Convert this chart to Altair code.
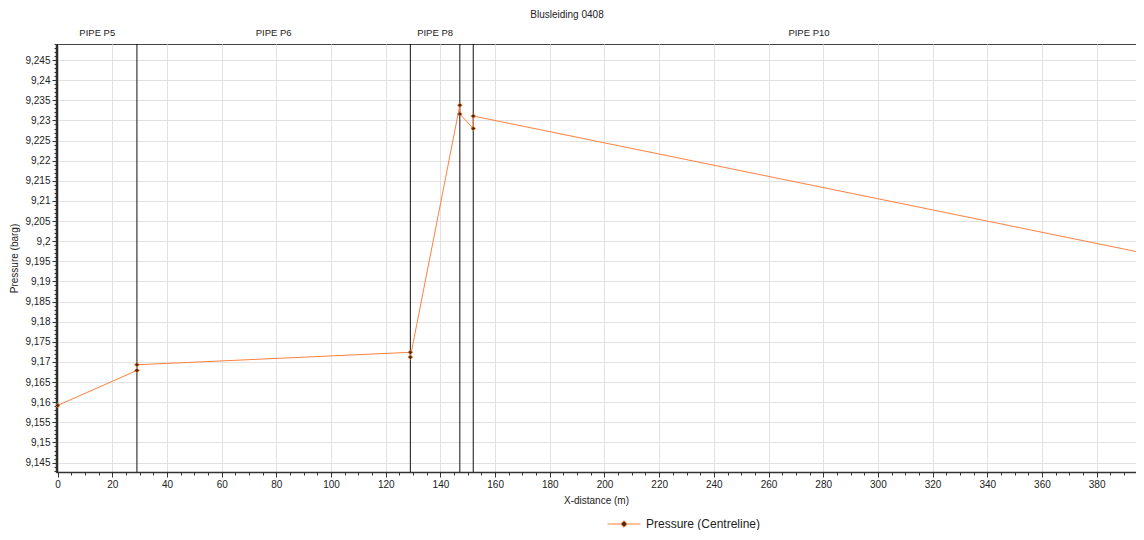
import altair as alt
import pandas as pd

# ---- data ----
distance = [0, 29, 29, 129, 129, 147.1, 147.1, 152.0, 152.0, 397.6]
pressure = [9.1592, 9.1679, 9.1693, 9.1724, 9.1712, 9.2338, 9.2316, 9.2280, 9.2311, 9.1970]

pipe_names = ["PIPE P5", "PIPE P6", "PIPE P8", "PIPE P10"]
pipe_start = [0, 29, 129, 152.0]
pipe_end = [29, 129, 147.1, 397.6]

boundaries = [0, 29, 129, 147.1, 152.0]

x_ticks = [v for v in range(0, 395, 5)]
y_major = [9.145, 9.15, 9.155, 9.16, 9.165, 9.17, 9.175, 9.18, 9.185, 9.19, 9.195,
           9.2, 9.205, 9.21, 9.215, 9.22, 9.225, 9.23, 9.235, 9.24, 9.245]
y_ticks = [round(9.143 + i * 0.001, 3) for i in range(107)]

SERIES = "Pressure (Centreline)"
ORANGE = "#ff8040"
FONT = "Liberation Sans"

series_df = pd.DataFrame({
    "dist": distance,
    "p": pressure,
    "idx": list(range(len(distance))),
    "series": [SERIES] * len(distance),
})
pipes_df = pd.DataFrame({"name": pipe_names, "start": pipe_start, "end": pipe_end})
bounds_df = pd.DataFrame({"b": boundaries})

x_scale = alt.Scale(domain=[-0.6, 394.4], nice=False, zero=False)
y_scale = alt.Scale(domain=[9.14266, 9.249], nice=False, zero=False)

y_major_test = "indexof([" + ",".join(repr(v) for v in y_major) + "], datum.value) >= 0"

x_axis = alt.Axis(
    title="X-distance (m)",
    values=x_ticks,
    tickCount=1000,
    labelExpr="datum.value % 20 == 0 ? format(datum.value, 'd') : ''",
    labelOverlap=False,
    labelFlush=False,
    tickSize={"condition": {"test": "datum.value % 20 == 0", "value": 5}, "value": 3},
    gridOpacity={"condition": {"test": "datum.value % 20 == 0", "value": 1}, "value": 0},
    titlePadding=6,
)
y_axis = alt.Axis(
    title="Pressure (barg)",
    values=y_ticks,
    tickCount=1000,
    labelExpr="(" + y_major_test + ") ? replace(format(datum.value, '.3~f'), '.', ',') : ''",
    labelOverlap=False,
    labelFlush=False,
    tickSize={"condition": {"test": y_major_test, "value": 4}, "value": 2},
    gridOpacity={"condition": {"test": y_major_test, "value": 1}, "value": 0},
    titlePadding=5,
)

legend = alt.Legend(
    title=None,
    orient="none",
    legendX=551,
    legendY=463,
    symbolType="M-1,0H-0.22M0.22,0H1M0,-0.2L0.2,0L0,0.2L-0.2,0Z",
    symbolSize=1089,
    symbolStrokeWidth=1,
    symbolFillColor="#4a2a10",
    labelFontSize=12,
    labelFont=FONT,
    labelColor="#222222",
    labelOffset=5,
)

line = alt.Chart(series_df).mark_line(strokeWidth=1, clip=True).encode(
    x=alt.X("dist:Q", scale=x_scale, axis=x_axis),
    y=alt.Y("p:Q", scale=y_scale, axis=y_axis),
    order="idx:Q",
    color=alt.Color("series:N", scale=alt.Scale(domain=[SERIES], range=[ORANGE]), legend=legend),
)

points = alt.Chart(series_df).mark_point(
    shape="diamond", filled=True, size=22, color="#4a2a10",
    stroke=ORANGE, strokeWidth=0.8, opacity=1, clip=True,
).encode(x="dist:Q", y="p:Q")

rules = alt.Chart(bounds_df).mark_rule(color="#111111", strokeWidth=1).encode(x="b:Q")

labels = alt.Chart(pipes_df).transform_calculate(
    mid="(datum.start + datum.end) / 2"
).mark_text(fontSize=9.5, font=FONT, color="#222222", baseline="middle").encode(
    x="mid:Q", y=alt.value(-11), text="name:N"
)

chart = alt.layer(rules, line, points, labels).properties(
    width=1080,
    height=428,
    padding={"left": 48, "top": 36, "right": 0, "bottom": 58},
    autosize=alt.AutoSizeParams(type="none"),
    title=alt.TitleParams("Blusleiding 0408", fontSize=10, font=FONT, fontWeight="normal",
                          color="#222222", anchor="middle", dx=-29, dy=-4),
).configure_view(
    stroke="#444444", strokeWidth=1
).configure_axis(
    labelFont=FONT, labelFontSize=10, labelColor="#222222",
    titleFont=FONT, titleFontSize=10, titleFontWeight="normal", titleColor="#222222",
    gridColor="#e2e2e2", gridWidth=1,
    domainColor="#333333", domainWidth=1.5,
    tickColor="#333333", tickWidth=1,
    labelPadding=2,
)

chart.save("out.html", embed_options={"renderer": "svg", "actions": False})
